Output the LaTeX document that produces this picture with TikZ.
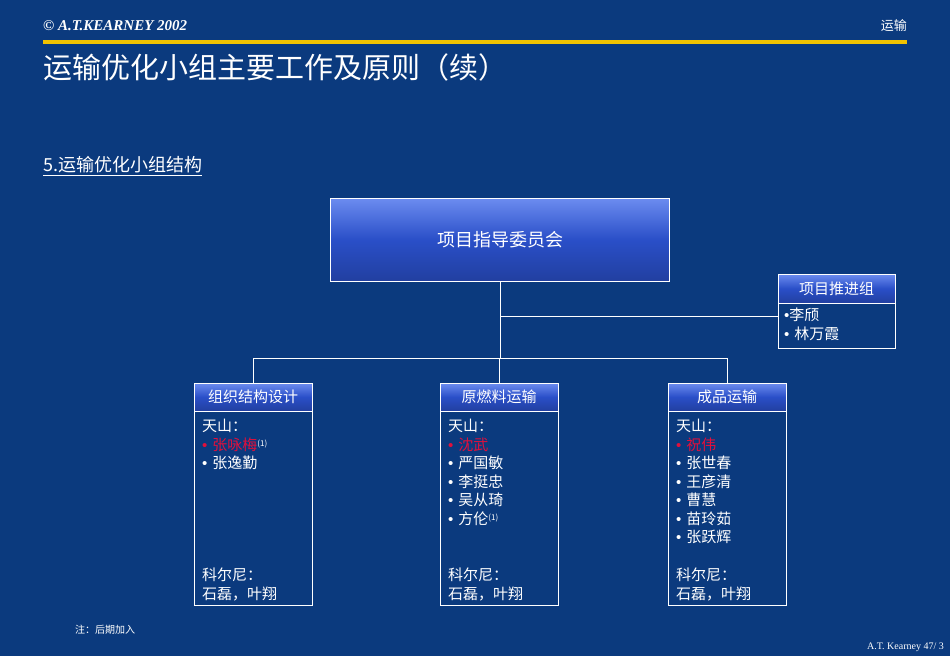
\documentclass[tikz,border=0pt]{standalone}
\usepackage{fontspec}
\setmainfont{Liberation Serif}
\newfontfamily\cjk{Noto Sans CJK SC}
\newfontfamily\bfam{Liberation Sans}
\newcommand{\bl}{{\bfam •}\hspace{5pt}}
\definecolor{bg}{HTML}{0B3A7E}
\definecolor{gold}{HTML}{F2C200}
\definecolor{redn}{HTML}{E0103C}
\definecolor{hdtop}{HTML}{2A4FC8}
\definecolor{hdmid}{HTML}{6C8CF0}
\begin{document}
\begin{tikzpicture}[x=1pt,y=-1pt,
  hdr/.style={draw=white,line width=0.8pt,top color=hdmid,bottom color=hdtop!80!black,middle color=hdtop},
  box/.style={draw=white,line width=0.8pt},
  ln/.style={white,line width=0.8pt},
  txt/.style={text=white,font=\cjk\fontsize{15}{18.5}\selectfont,align=left,anchor=north west,inner sep=0pt}]
\fill[bg] (0,0) rectangle (950,656);
\useasboundingbox (0,0) rectangle (950,656);
\node[anchor=west,text=white,inner sep=0pt,font=\bfseries\itshape\fontsize{15}{15}\selectfont] (c) at (43,26) {© A.T.KEARNEY 2002};
\node[anchor=east,text=white,inner sep=0pt,font=\cjk\fontsize{13}{13}\selectfont] (r) at (907,26) {运输};
\fill[gold] (43,39.5) rectangle (907,43.5);
\node[anchor=west,text=white,inner sep=0pt,font=\cjk\fontsize{29}{29}\selectfont] (t) at (43,67) {运输优化小组主要工作及原则（续）};
\node[anchor=west,text=white,inner sep=0pt,font=\cjk\fontsize{18}{18}\selectfont] (s) at (43,166) {\underline{5.运输优化小组结构}};
% main
\node[hdr,minimum width=339,minimum height=83,text=white,font=\cjk\fontsize{18}{18}\selectfont] (m) at (500,239.5) {项目指导委员会};
% right
\draw[box] (778,274) rectangle (895,348);
\node[hdr,minimum width=117,minimum height=29,text=white,font=\cjk\fontsize{15}{15}\selectfont] (p) at (836.5,288.5) {项目推进组};
\node[txt] (pt) at (784,308) {{\bfam •}李颀\\\bl 林万霞};
% lines
\coordinate (j) at (500,358);
\coordinate (jm) at (500,316);
\draw[ln] (m.south) -- (j);
\draw[ln] (jm) -- (p.west |- jm);
\draw[ln] (253,358) -- (727,358);
% boxes
\foreach \n/\x/\t in {a/194/组织结构设计,b/440/原燃料运输,c/668/成品运输}{
  \draw[box] (\x,383) rectangle ++(118,222);
  \node[hdr,minimum width=118,minimum height=28,text=white,font=\cjk\fontsize{15}{15}\selectfont] (\n) at (\x+59,397) {\t};
  \draw[ln] (\x+59,358) -- (\n.north);
  \node[txt] at (\x+8,568) {科尔尼：\\石磊，叶翔};
}
\node[txt] (ta) at (202,419) {天山：\\\textcolor{redn}{\bl 张咏梅}{\fontsize{8}{8}\selectfont\raisebox{4pt}{(1)}}\\\bl 张逸勤};
\node[txt] (tb) at (448,419) {天山：\\\textcolor{redn}{\bl 沈武}\\\bl 严国敏\\\bl 李挺忠\\\bl 吴从琦\\\bl 方伦{\fontsize{8}{8}\selectfont\raisebox{4pt}{(1)}}};
\node[txt] (tc) at (676,419) {天山：\\\textcolor{redn}{\bl 祝伟}\\\bl 张世春\\\bl 王彦清\\\bl 曹慧\\\bl 苗玲茹\\\bl 张跃辉};
\node[anchor=west,text=white,inner sep=0pt,font=\cjk\fontsize{10}{10}\selectfont] (n) at (75,630) {注：后期加入};
\node[anchor=east,text=white,inner sep=0pt,font=\fontsize{10}{10}\selectfont] (f) at (944,647) {A.T. Kearney 47/ 3};
\end{tikzpicture}
\end{document}
